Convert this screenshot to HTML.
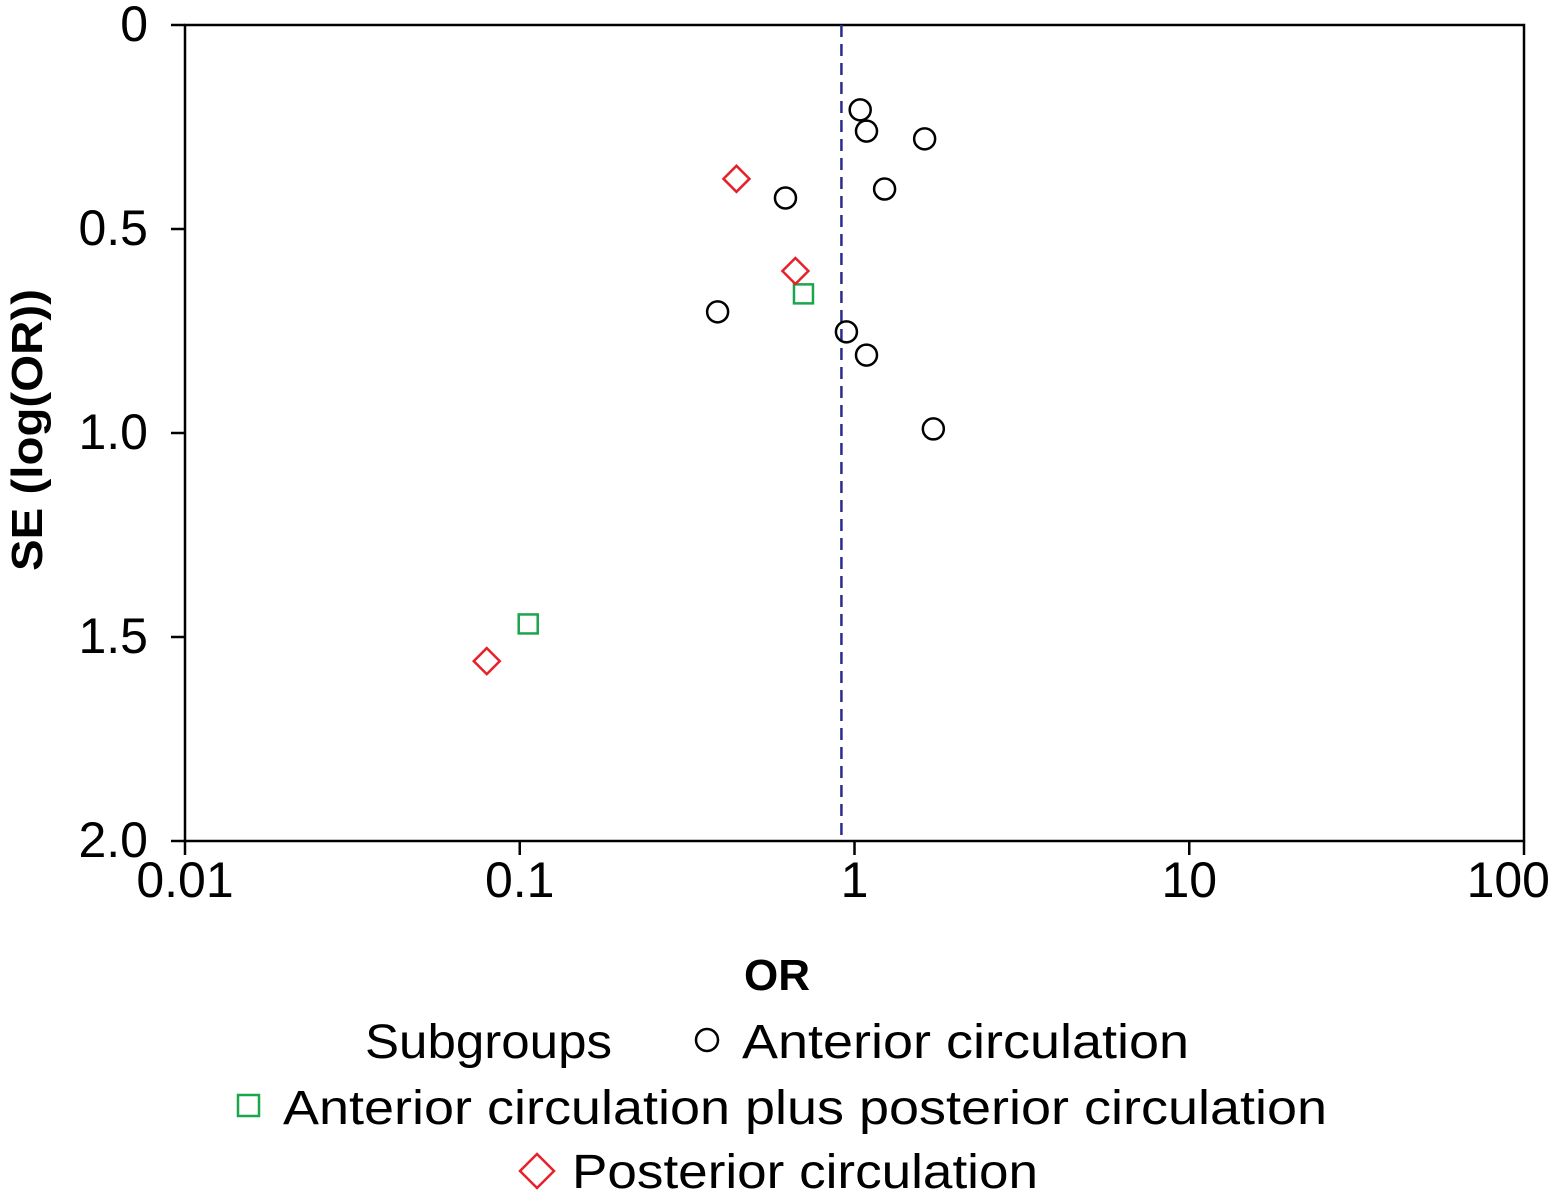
<!DOCTYPE html>
<html><head><meta charset="utf-8"><style>
body{margin:0;background:#fff}
svg{display:block;font-family:"Liberation Sans","DejaVu Sans",sans-serif}
</style></head><body>
<svg id="chart" width="1550" height="1192" viewBox="0 0 1550 1192">
<g id="axes"></g><g id="marks"></g>
<text x="42" y="430" transform="rotate(-90 42 430)" text-anchor="middle" font-size="44" font-weight="bold" textLength="282" lengthAdjust="spacingAndGlyphs">SE (log(OR))</text>
<text x="777" y="990" text-anchor="middle" font-size="44" font-weight="bold">OR</text>
<g font-size="48">
<text x="365" y="1058" textLength="247" lengthAdjust="spacingAndGlyphs">Subgroups</text>
<circle cx="707" cy="1040" r="11" fill="none" stroke="#000" stroke-width="2.5"/>
<text x="742" y="1058" textLength="447" lengthAdjust="spacingAndGlyphs">Anterior circulation</text>
<rect x="238" y="1095" width="21" height="21" fill="none" stroke="#1aa64a" stroke-width="2.5"/>
<text x="283" y="1124" textLength="1044" lengthAdjust="spacingAndGlyphs">Anterior circulation plus posterior circulation</text>
<path d="M537 1154 L554 1171 L537 1188 L520 1171 Z" fill="none" stroke="#e8202a" stroke-width="2.5"/>
<text x="572" y="1188" textLength="466" lengthAdjust="spacingAndGlyphs">Posterior circulation</text>
</g>
</svg>
<script>
const xTicks=[0.01,0.1,1,10,100];
const xTickLabels=["0.01","0.1","1","10","100"];
const yTicks=[0,0.5,1.0,1.5,2.0];
const yTickLabels=["0","0.5","1.0","1.5","2.0"];
const pooledOR=0.914;
const anteriorOR=[1.04,1.086,1.62,1.23,0.622,0.39,0.946,1.086,1.72];
const anteriorSE=[0.208,0.26,0.279,0.402,0.424,0.703,0.752,0.809,0.99];
const bothOR=[0.704,0.106];
const bothSE=[0.659,1.468];
const posteriorOR=[0.444,0.666,0.0797];
const posteriorSE=[0.377,0.603,1.559];
const L=185,R=1524,T=25,B=841;
const xs=v=>L+(Math.log10(v)+2)/4*(R-L);
const ys=v=>T+v/2*(B-T);
const NS="http://www.w3.org/2000/svg";
function mk(tag,attrs,parent){const e=document.createElementNS(NS,tag);for(const k in attrs)e.setAttribute(k,attrs[k]);parent.appendChild(e);return e;}
const ax=document.getElementById('axes'),mg=document.getElementById('marks');
let f=mk('rect',{x:L,y:T,width:R-L,height:B-T,fill:'none',stroke:'#000','stroke-width':2.5},ax);


xTicks.forEach((t,i)=>{
 let l=mk('line',{x1:xs(t),x2:xs(t),y1:B,y2:B+14,stroke:'#000','stroke-width':2.5},ax);
 
 
 let last=i===xTicks.length-1;
 let tx=mk('text',{x:last?1550:xs(t),y:B+56,'text-anchor':last?'end':'middle','font-size':50},ax);
 tx.textContent=xTickLabels[i];
 
 
});
yTicks.forEach((t,i)=>{
 let l=mk('line',{x1:L-14,x2:L,y1:ys(t),y2:ys(t),stroke:'#000','stroke-width':2.5},ax);
 
 
 let tx=mk('text',{x:148,y:ys(t)+16,'text-anchor':'end','font-size':50},ax);
 tx.textContent=yTickLabels[i];
 
 
});
let d=mk('line',{x1:xs(pooledOR),x2:xs(pooledOR),y1:T,y2:B,stroke:'#2b2b8c','stroke-width':2.5,'stroke-dasharray':'12 7'},mg);


anteriorOR.forEach((v,i)=>{
 let c=mk('circle',{cx:xs(v),cy:ys(anteriorSE[i]),r:10.5,fill:'none',stroke:'#000','stroke-width':2.5},mg);
 
 
});
bothOR.forEach((v,i)=>{
 let x=xs(v),y=ys(bothSE[i]);
 let r=mk('rect',{x:x-9.5,y:y-9.5,width:19,height:19,fill:'none',stroke:'#1aa64a','stroke-width':2.5},mg);
 
 
});
posteriorOR.forEach((v,i)=>{
 let x=xs(v),y=ys(posteriorSE[i]);
 let p=mk('path',{d:`M${x} ${y-13} L${x+13} ${y} L${x} ${y+13} L${x-13} ${y} Z`,fill:'none',stroke:'#e8202a','stroke-width':2.5},mg);
 
 
});
</script>
</body></html>
